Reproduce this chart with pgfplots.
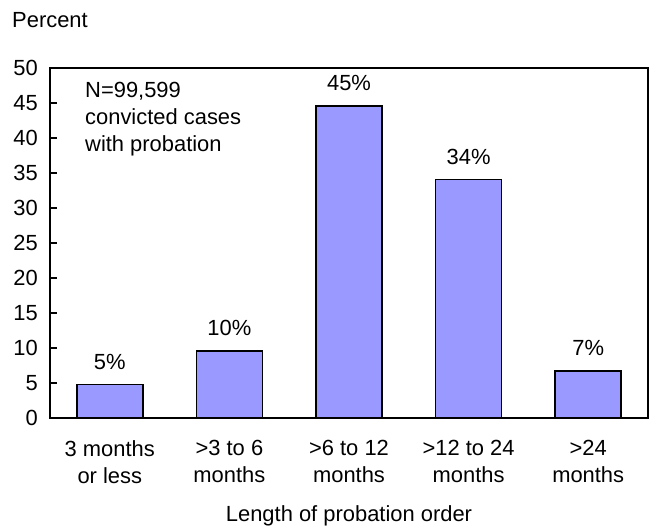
\documentclass[border=0pt]{standalone}
\usepackage{fontspec}
\setmainfont{Liberation Sans}
\usepackage{pgfplots}
\pgfplotsset{compat=1.18}
\definecolor{barfill}{RGB}{153,153,255}
\begin{document}
\begin{tikzpicture}[x=1bp,y=1bp,font=\fontsize{22}{25}\selectfont]
\path (0,0) rectangle (653,529);
\begin{axis}[
  at={(50bp,111bp)}, anchor=south west,
  scale only axis, width=598bp, height=350bp,
  xmin=-0.5, xmax=4.5, ymin=0, ymax=50,
  ytick={0,5,...,50},
  xtick={0,1,2,3,4},
  xticklabels={{3 months\\or less},{>3 to 6\\months},{>6 to 12\\months},{>12 to 24\\months},{>24\\months}},
  xticklabel style={align=center, anchor=north, inner sep=0pt, yshift=-15bp,
    font=\fontsize{22}{27.5}\selectfont},
  yticklabel style={anchor=east, inner sep=0pt, xshift=-12bp},
  major x tick style={draw=none},
  ytick pos=left, tick align=inside, major tick length=7bp,
  axis line style={line width=1.5bp},
  every tick/.style={black, line width=1.5bp},
  /pgf/number format/assume math mode=true,
  ybar, bar width=66bp,
  nodes near coords={\pgfplotspointmeta},
  point meta=explicit symbolic,
  every node near coord/.append style={yshift=11bp, font=\fontsize{22}{25}\selectfont},
  clip=false,
]
\addplot[fill=barfill, draw=black, line width=1.5bp] coordinates {
  (0,4.8) [5\%]
  (1,9.6) [10\%]
  (2,44.6) [45\%]
  (3,34.1) [34\%]
  (4,6.7) [7\%]
};
\node[anchor=base west, inner sep=0pt, xshift=-38bp, yshift=40bp] at (rel axis cs:0,1) {Percent};
\node[anchor=north west, align=left, inner sep=0pt, xshift=35bp, yshift=-14bp,
  font=\fontsize{22}{27}\selectfont] at (rel axis cs:0,1)
  {N=99,599\\convicted cases\\with probation};
\node[anchor=base, inner sep=0pt, yshift=-104bp] at (rel axis cs:0.5,0) {Length of probation order};
\end{axis}
\end{tikzpicture}
\end{document}
